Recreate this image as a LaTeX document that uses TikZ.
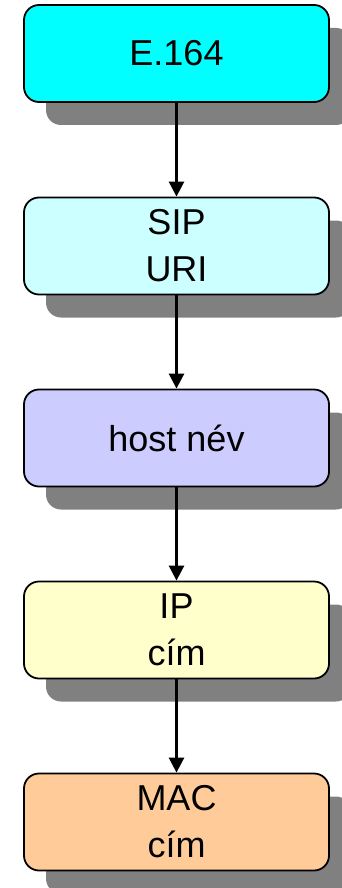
\documentclass[tikz,border=0pt]{standalone}
\usepackage{fontspec}
\setmainfont{Liberation Sans}
\usetikzlibrary{arrows.meta,shadows}
\definecolor{c1}{HTML}{00FFFF}
\definecolor{c2}{HTML}{CCFFFF}
\definecolor{c3}{HTML}{CCCCFF}
\definecolor{c4}{HTML}{FFFFCC}
\definecolor{c5}{HTML}{FFCC99}
\definecolor{shadowgray}{HTML}{808080}
\begin{document}
\begin{tikzpicture}[x=1pt,y=1pt,
  box/.style={draw=black, line width=1.8pt, rounded corners=15pt,
    minimum width=305pt, minimum height=97pt, inner sep=0pt, align=center,
    font=\fontsize{36}{47}\selectfont,
    general shadow={fill=shadowgray, shadow xshift=22pt, shadow yshift=-23pt}},
  link/.style={line width=2.6pt, -{Triangle[length=15pt,width=15pt]}}]
\useasboundingbox (0,0) rectangle (342,-888);
\node[box, fill=c1] (a) at (176.5,-53.5) {E.164};
\node[box, fill=c2] (b) at (176.5,-246) {SIP\\URI};
\node[box, fill=c3] (c) at (176.5,-438) {host név};
\node[box, fill=c4] (d) at (176.5,-630) {IP\\cím};
\node[box, fill=c5] (e) at (176.5,-822) {MAC\\cím};
\draw[link] (a) -- (b);
\draw[link] (b) -- (c);
\draw[link] (c) -- (d);
\draw[link] (d) -- (e);
\end{tikzpicture}
\end{document}
